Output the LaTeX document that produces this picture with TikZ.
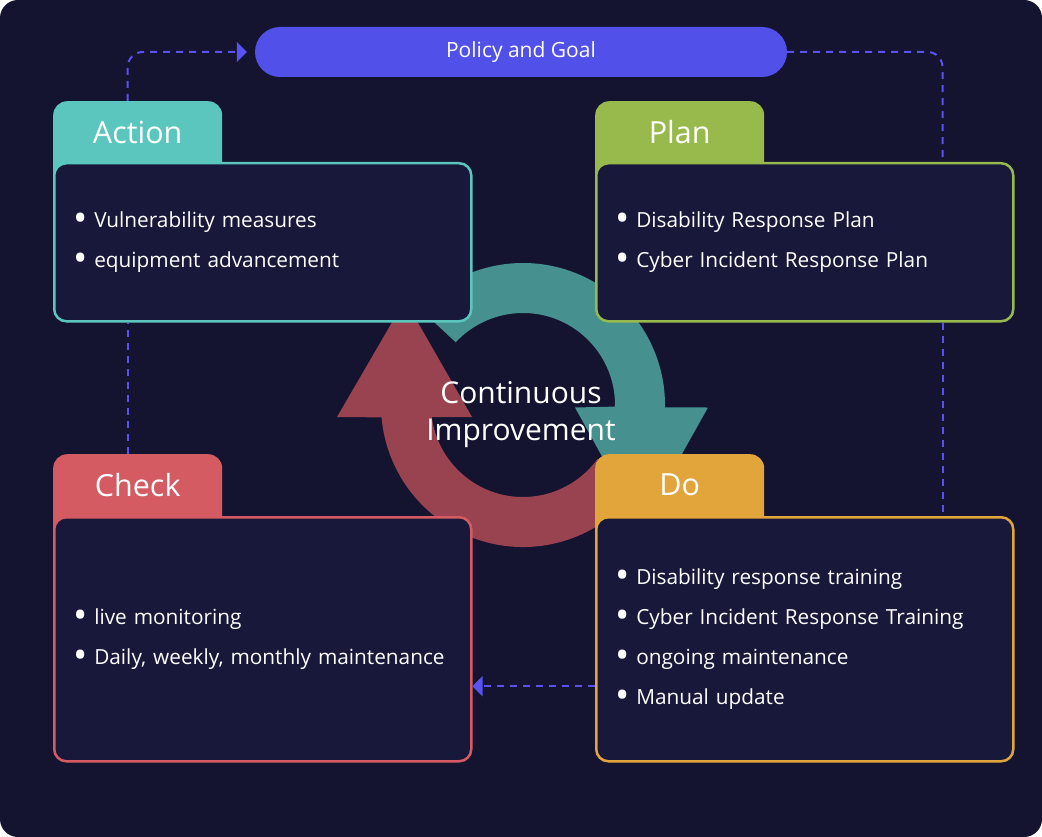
\documentclass[tikz,border=0pt]{standalone}
\usepackage{fontspec}
\setmainfont{Open Sans}
\usetikzlibrary{positioning, arrows.meta, calc}
\definecolor{Night}{HTML}{141330}
\definecolor{Panel}{HTML}{18183A}
\definecolor{Indigo}{HTML}{5150E9}
\definecolor{Link}{HTML}{5A52F0}
\definecolor{Teal}{HTML}{5BC6BD}
\definecolor{Olive}{HTML}{98BA4D}
\definecolor{Coral}{HTML}{D55B63}
\definecolor{Amber}{HTML}{E1A53C}
\definecolor{TealDark}{HTML}{46908F}
\definecolor{RoseDark}{HTML}{9A4350}
\newcommand{\bul}{\makebox[19pt][l]{\hspace{-2pt}\raisebox{-4pt}{\fontsize{38}{38}\selectfont\textbullet}}}

\begin{document}
\begin{tikzpicture}[
    x=1pt, y=1pt,
    every node/.style={text=white},
    tab/.style={fill=#1, rounded corners=14pt, minimum width=169pt, minimum height=100pt, anchor=north west, inner sep=0pt},
    tablabel/.style={font=\fontsize{30.5}{34}\selectfont},
    panel/.style={draw=#1, line width=2.5pt, fill=Panel, rounded corners=12pt, anchor=north west,
        minimum width=417pt, text width=375pt, inner xsep=21pt, align=left, font=\fontsize{20.8}{40}\selectfont},
    link/.style={Link, line width=2pt, dash pattern=on 7pt off 6pt, rounded corners=15pt},
    tip/.style={-{Triangle[length=10pt, width=20pt]}}
]

% === Frame ===
\fill[white] (0,0) rectangle (1042,-837);
\fill[Night, rounded corners=18pt] (0,0) rectangle (1042,-837);
\useasboundingbox (0,0) rectangle (1042,-837);

% === Cycle arrows ===
\begin{scope}[shift={(523,-405)}]
\fill[RoseDark] (-25:142) arc[start angle=-25, end angle=-175, radius=142]
    -- (-186,-12) -- (-118,105) -- (-51,-12)
    -- (-172.5:92) arc[start angle=-172.5, end angle=-36, radius=92] -- cycle;
\fill[TealDark] (137:142) arc[start angle=137, end angle=-1, radius=142]
    -- (185,-2.5) -- (118,-122) -- (52,-2.5)
    -- (-1:92) arc[start angle=-1, end angle=137, radius=92] -- cycle;
\end{scope}
\node[font=\fontsize{30}{37}\selectfont, align=center] (cycle) at (521,-415) {Continuous\\Improvement};

% Policy
\node[fill=Indigo, rounded corners=25pt, minimum width=532pt, minimum height=50pt,
    font=\fontsize{21}{24}\selectfont] (policy) at (521,-52) {Policy and Goal};

% === Action ===
\node[tab=Teal] (actiontab) at (53,-101) {};
\node[tablabel] (actionlabel) at ($(actiontab.north)+(0,-31)$) {Action};
\node[panel=Teal, minimum height=158pt] (actionbox) at (53,-162)
    {\bul Vulnerability measures\\ \bul equipment advancement};

% === Plan ===
\node[tab=Olive] (plantab) at (595,-101) {};
\node[tablabel] (planlabel) at ($(plantab.north)+(0,-31)$) {Plan};
\node[panel=Olive, minimum height=158pt] (planbox) at (595,-162)
    {\bul Disability Response Plan\\ \bul Cyber Incident Response Plan};

% === Check ===
\node[tab=Coral] (checktab) at (53,-454) {};
\node[tablabel] (checklabel) at ($(checktab.north)+(0,-31)$) {Check};
\node[panel=Coral, minimum height=244pt] (checkbox) at (53,-516)
    {\bul live monitoring\\ \bul Daily, weekly, monthly maintenance};

% === Do ===
\node[tab=Amber] (dotab) at (595,-454) {};
\node[tablabel] (dolabel) at ($(dotab.north)+(0,-31)$) {Do};
\node[panel=Amber, minimum height=244pt] (dobox) at (595,-516)
    {\bul Disability response training\\ \bul Cyber Incident Response Training\\
     \bul ongoing maintenance\\ \bul Manual update};

% === Links ===
\draw[link, tip] ([xshift=-10pt]actiontab.north) |- ([xshift=-8pt]policy.west);
\draw[link] (policy.east) -| ([xshift=-72pt]planbox.north east);
\draw[link] ([xshift=-72pt]planbox.south east) -- ([xshift=-72pt]dobox.north east);
\draw[link, tip] ([yshift=-47pt]dobox.west) -- ([yshift=-47pt]checkbox.east);
\draw[link] ([xshift=-10pt]checktab.north) -- ([xshift=-10pt]checktab.north |- actionbox.south);

\end{tikzpicture}
\end{document}
